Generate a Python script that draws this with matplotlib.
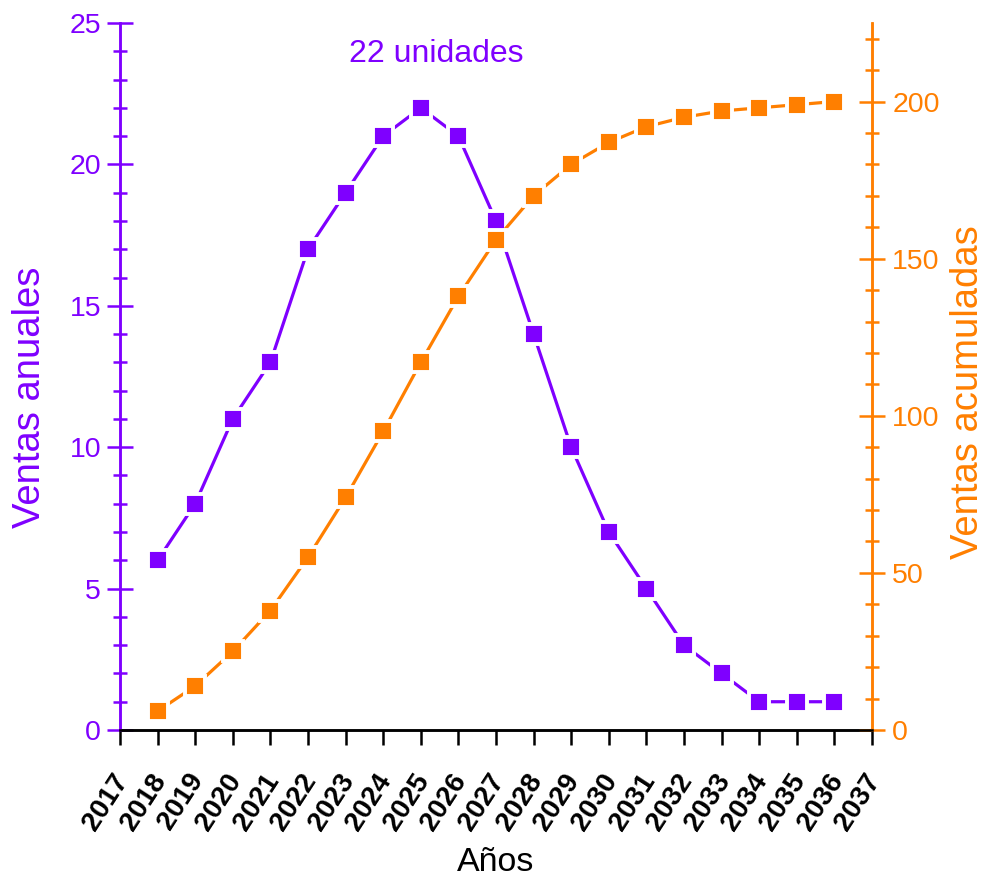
import matplotlib
matplotlib.use('Agg')
import matplotlib.pyplot as plt
import matplotlib.transforms as mtransforms
from matplotlib.ticker import MultipleLocator

plt.rcParams['font.family'] = ['Liberation Sans', 'DejaVu Sans']

# Datos
years = list(range(2018, 2037))
anuales = [6, 8, 11, 13, 17, 19, 21, 22, 21, 18, 14, 10, 7, 5, 3, 2, 1, 1, 1]
acumuladas = [6, 14, 25, 38, 55, 74, 95, 117, 138, 156, 170, 180, 187, 192, 195, 197, 198, 199, 200]
xticks = list(range(2017, 2038))
pico_texto = '22 unidades'

morado = '#7F00FF'
naranja = '#FF7F00'

fig = plt.figure(figsize=(9.85, 8.77), dpi=100)
ax = fig.add_axes([0.1218, 0.1676, 0.7635, 0.8062])
ax2 = ax.twinx()

ax.plot(years, anuales, color=morado, lw=2.3, marker='s', ms=14.5,
        mfc=morado, mec='white', mew=2.8)
ax2.plot(years, acumuladas, color=naranja, lw=2.3, marker='s', ms=14.5,
         mfc=naranja, mec='white', mew=2.8)

ax.set_xlim(2017, 2037)
ax.set_ylim(0, 25)
ax2.set_ylim(0, 225)

# eje x
ax.set_xticks(xticks)
ax.set_xticklabels([str(y) for y in xticks], rotation=57, ha='right', va='center',
                   rotation_mode='anchor', fontweight='bold', fontsize=20)
ax.tick_params(axis='x', direction='out', length=11, width=1.8, color='black', pad=22)
desplaza = mtransforms.ScaledTranslation(3 / 100, 0, fig.dpi_scale_trans)
for lab in ax.get_xticklabels():
    lab.set_transform(lab.get_transform() + desplaza)
ax.set_xlabel('Años', fontsize=24.5, va='center')
ax.xaxis.set_label_coords(0.499, -0.187)

# eje izquierdo
ax.yaxis.set_major_locator(MultipleLocator(5))
ax.yaxis.set_minor_locator(MultipleLocator(1))
ax.tick_params(axis='y', which='major', direction='inout', length=19, width=1.8,
               color=morado, labelcolor=morado, labelsize=20.5, pad=4)
ax.tick_params(axis='y', which='minor', direction='inout', length=10, width=1.8, color=morado)
ax.set_ylabel('Ventas anuales', color=morado, fontsize=27.5, va='center')
ax.yaxis.set_label_coords(-0.119, 0.47)

# eje derecho
ax2.yaxis.set_major_locator(MultipleLocator(50))
ax2.yaxis.set_minor_locator(MultipleLocator(10))
ax2.tick_params(axis='y', which='major', direction='inout', length=19, width=1.8,
                color=naranja, labelcolor=naranja, labelsize=20.5, pad=5)
ax2.tick_params(axis='y', which='minor', direction='inout', length=10, width=1.8, color=naranja)
ax2.set_ylabel('Ventas acumuladas', color=naranja, fontsize=27.5, va='center')
ax2.yaxis.set_label_coords(1.128, 0.478)

for a in (ax, ax2):
    a.spines['top'].set_visible(False)
    a.spines['left'].set_color(morado)
    a.spines['right'].set_color(naranja)
    a.spines['bottom'].set_color('black')
    for s in a.spines.values():
        s.set_linewidth(1.8)

ax.text(2025.4, 23.9, pico_texto, color=morado, fontsize=23, ha='center', va='center')

fig.savefig('out.png', dpi=100)
